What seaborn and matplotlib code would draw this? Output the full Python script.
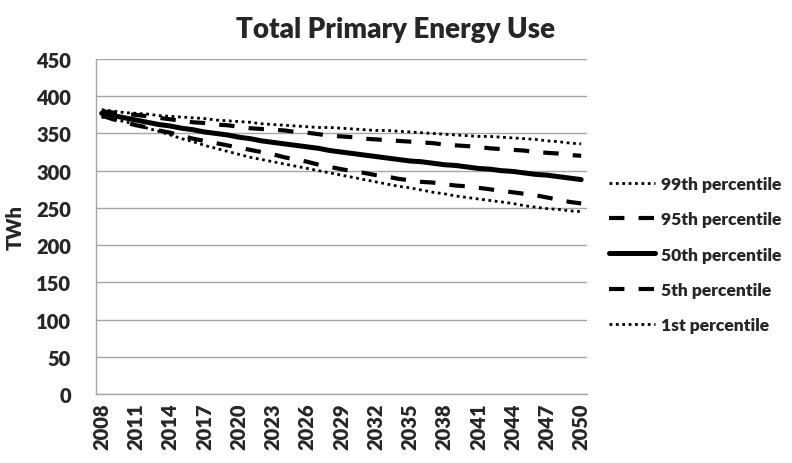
import matplotlib
matplotlib.use("Agg")
import matplotlib.pyplot as plt
import numpy as np
import pandas as pd
import seaborn as sns

years = list(range(2008, 2051))

p99 = [382, 380, 378, 377, 376, 374, 373, 372, 371, 370, 368, 367, 366, 365, 363,
       362, 361, 360, 359, 358, 358, 357, 356, 355, 354, 354, 353, 352, 351, 350,
       349, 348, 347, 346, 346, 345, 344, 343, 342, 340, 339, 337, 336]
p95 = [380, 378, 376, 375, 373, 371, 369, 367, 365, 364, 362, 361, 359, 357, 356,
       355, 354, 352, 351, 349, 347, 346, 345, 343, 342, 341, 340, 339, 338, 337,
       335, 334, 333, 332, 330, 329, 328, 327, 325, 324, 323, 321, 320]
p50 = [377, 374, 371, 368, 365, 362, 360, 357, 355, 352, 350, 348, 345, 343, 340,
       338, 336, 334, 332, 330, 327, 325, 323, 321, 319, 317, 315, 313, 312, 310,
       308, 307, 305, 303, 302, 300, 299, 297, 295, 294, 292, 290, 288]
p5 = [374, 369, 365, 361, 358, 354, 351, 347, 343, 340, 337, 334, 331, 328, 325,
      322, 318, 315, 312, 308, 305, 302, 299, 297, 294, 292, 289, 287, 285, 284,
      282, 280, 279, 277, 275, 273, 271, 269, 267, 264, 261, 258, 256]
p1 = [372, 369, 366, 362, 357, 353, 348, 343, 339, 334, 330, 326, 322, 318, 315,
      312, 309, 306, 303, 300, 297, 294, 291, 288, 285, 282, 279, 277, 274, 271,
      269, 266, 264, 262, 260, 258, 256, 253, 251, 249, 248, 246, 245]

series_names = ["99th percentile", "95th percentile", "50th percentile",
                "5th percentile", "1st percentile"]
series_values = [p99, p95, p50, p5, p1]

sns.set_style("white")
plt.rcParams["font.family"] = ["Lato", "DejaVu Sans"]

styles = {
    "99th percentile": dict(lw=2.0, ls=(0, (1, 1.3))),
    "95th percentile": dict(lw=3.0, ls=(0, (3.7, 3.4))),
    "50th percentile": dict(lw=3.6, ls="-"),
    "5th percentile": dict(lw=3.0, ls=(0, (3.7, 3.4))),
    "1st percentile": dict(lw=2.0, ls=(0, (1, 1.3))),
}

df = pd.DataFrame({"year": years})
for name, vals in zip(series_names, series_values):
    df[name] = vals

fig = plt.figure(figsize=(7.92, 4.64), dpi=100)
ax = fig.add_axes([0.1212, 0.1487, 0.741 - 0.1212, 0.8707 - 0.1487])

for name in series_names:
    st = styles[name]
    sns.lineplot(data=df, x="year", y=name, ax=ax, color="black",
                 linewidth=st["lw"], linestyle=st["ls"], label=name)

ax.set_xlim(2007.5, 2050.5)
ax.set_ylim(0, 450)
ax.set_yticks(range(0, 451, 50))
ax.yaxis.grid(True, color="#a6a6a6", linewidth=1)
ax.set_axisbelow(True)

wt = "heavy"
ax.set_xticks(years[::3])
ax.set_xticklabels([str(y) for y in years[::3]], rotation=90,
                   fontsize=14.5, fontweight=wt)
ax.set_xticks(np.arange(2007.5, 2051, 1), minor=True)
ax.tick_params(axis="x", which="major", length=0, pad=6)
ax.tick_params(axis="x", which="minor", length=5, color="#a6a6a6", direction="out")
ax.tick_params(axis="y", length=6, color="#a6a6a6", direction="out", pad=12)
for lab in ax.get_yticklabels():
    lab.set_fontsize(14.5)
    lab.set_fontweight(wt)

for side in ["top", "right"]:
    ax.spines[side].set_visible(False)
for side in ["left", "bottom"]:
    ax.spines[side].set_color("#a6a6a6")
    ax.spines[side].set_linewidth(1)

ax.set_xlabel("")
ax.set_ylabel("TWh", fontsize=14.5, fontweight=wt, labelpad=8)

ax.get_legend().remove()
handles, labels = ax.get_legend_handles_labels()
fig.legend(handles, labels, loc="upper left", bbox_to_anchor=(0.769, 1 - 177 / 464),
           frameon=False, prop=dict(size=12.6, weight=wt),
           handlelength=2.65, handletextpad=0.3, labelspacing=1.1, borderpad=0,
           borderaxespad=0)

fig.text(0.5, 1 - 30 / 464, "Total Primary Energy Use", ha="center", va="center",
         fontsize=20, fontweight=wt)

fig.savefig("out.png", dpi=100, facecolor="white")
